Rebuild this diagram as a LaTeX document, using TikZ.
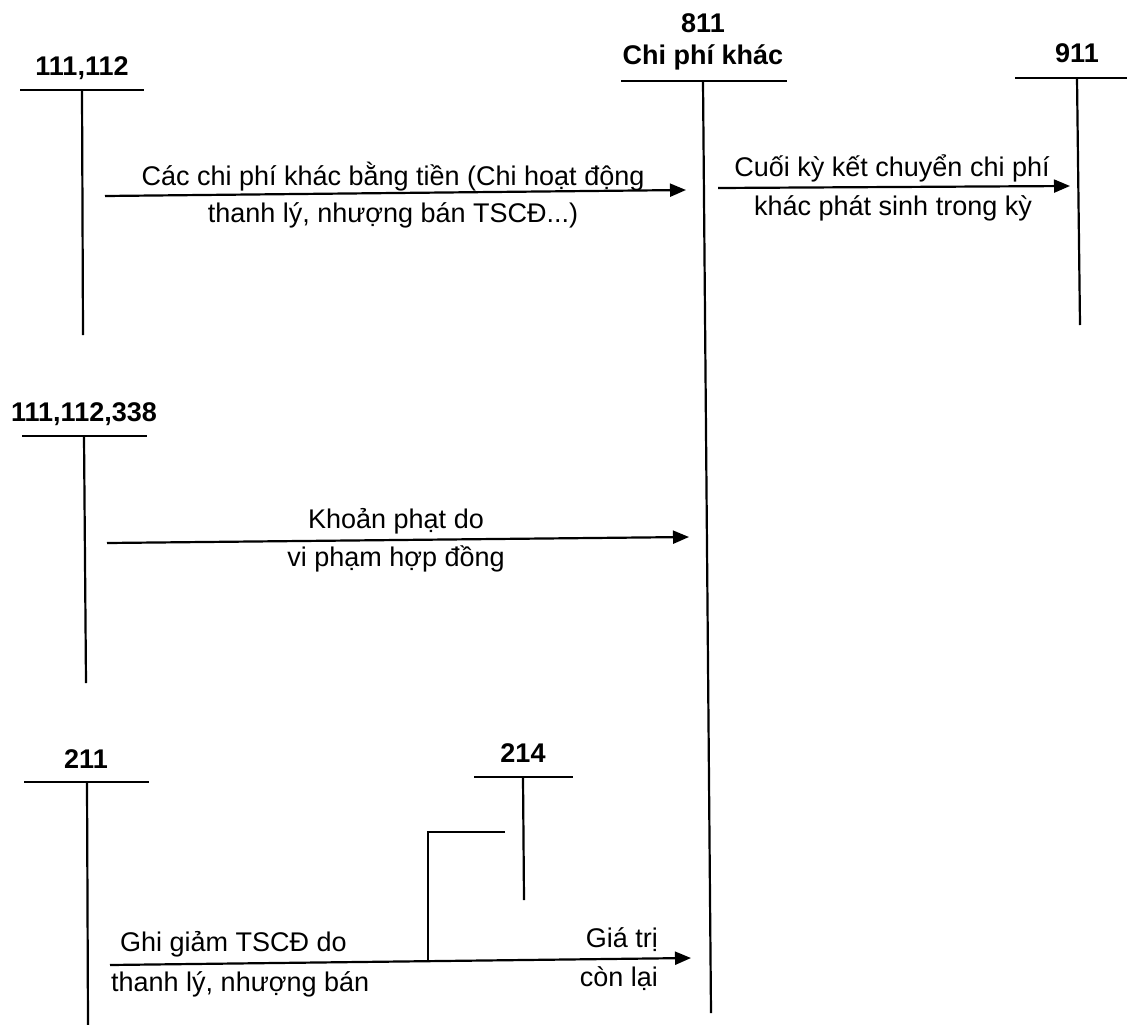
\documentclass[tikz,border=0pt]{standalone}
\usepackage{fontspec}
\setmainfont{Liberation Sans}
\usetikzlibrary{arrows.meta}
\begin{document}
\begin{tikzpicture}[x=1pt,y=-1pt,
  acc/.style={line width=2.2pt},
  flow/.style={line width=2.2pt,-{Triangle[length=16pt,width=13pt]}},
  lbl/.style={inner sep=0pt,anchor=base,font=\fontsize{27}{32}\selectfont},
  head/.style={inner sep=0pt,anchor=base,font=\fontsize{27}{32}\selectfont\bfseries}]
\useasboundingbox (0,0) rectangle (1127,1025);
% T-account 111,112
\coordinate (aL) at (20,90); \coordinate (aR) at (144,90);
\coordinate (aT) at (82,90); \coordinate (aB) at (83,335);
\draw[acc] (aL) -- (aR); \draw[acc] (aT) -- (aB);
\node[head] (aN) at (82,75) {111,112};
% T-account 811
\coordinate (mL) at (621,81); \coordinate (mR) at (787,81);
\coordinate (mT) at (703,81); \coordinate (mB) at (711,1013);
\draw[acc] (mL) -- (mR); \draw[acc] (mT) -- (mB);
\node[head] (mN1) at (703,33) {811};
\node[head] (mN2) at (703,65) {Chi phí khác};
% T-account 911
\coordinate (zL) at (1015,78); \coordinate (zR) at (1127,78);
\coordinate (zT) at (1077,78); \coordinate (zB) at (1080,325);
\draw[acc] (zL) -- (zR); \draw[acc] (zT) -- (zB);
\node[head] (zN) at (1077,63) {911};
% T-account 111,112,338
\coordinate (bL) at (22,436); \coordinate (bR) at (147,436);
\coordinate (bT) at (84,436); \coordinate (bB) at (86,683);
\draw[acc] (bL) -- (bR); \draw[acc] (bT) -- (bB);
\node[head] (bN) at (84,421) {111,112,338};
% T-account 211
\coordinate (cL) at (24,782); \coordinate (cR) at (149,782);
\coordinate (cT) at (87,782); \coordinate (cB) at (88,1025);
\draw[acc] (cL) -- (cR); \draw[acc] (cT) -- (cB);
\node[head] (cN) at (86,768) {211};
% T-account 214
\coordinate (dL) at (474,777); \coordinate (dR) at (573,777);
\coordinate (dT) at (523,777); \coordinate (dB) at (524,900);
\draw[acc] (dL) -- (dR); \draw[acc] (dT) -- (dB);
\node[head] (dN) at (523,762) {214};
% flow 1
\coordinate (f1s) at (105,196); \coordinate (f1e) at (686,190);
\draw[flow] (f1s) -- (f1e);
\node[lbl] (t1a) at (393,185) {Các chi phí khác bằng tiền (Chi hoạt động};
\node[lbl] (t1b) at (393,222) {thanh lý, nhượng bán TSCĐ...)};
% flow 2
\coordinate (f2s) at (718,188); \coordinate (f2e) at (1070,186);
\draw[flow] (f2s) -- (f2e);
\node[lbl] (t2a) at (892,176) {Cuối kỳ kết chuyển chi phí};
\node[lbl] (t2b) at (893,215) {khác phát sinh trong kỳ};
% flow 3
\coordinate (f3s) at (107,543); \coordinate (f3e) at (689,537);
\draw[flow] (f3s) -- (f3e);
\node[lbl] (t3a) at (396,528) {Khoản phạt do};
\node[lbl] (t3b) at (396,566) {vi phạm hợp đồng};
% flow 4
\coordinate (f4s) at (110,965); \coordinate (f4e) at (691,958);
\draw[flow] (f4s) -- (f4e);
\coordinate (g1) at (505,832); \coordinate (g2) at (428,832); \coordinate (g3) at (428,961);
\draw[acc] (g1) -- (g2) -- (g3);
\node[lbl,anchor=base west] (t4a) at (120,951) {Ghi giảm TSCĐ do};
\node[lbl,anchor=base west] (t4b) at (111,991) {thanh lý, nhượng bán};
\node[lbl,anchor=base east] (t4c) at (658,947) {Giá trị};
\node[lbl,anchor=base east] (t4d) at (658,986) {còn lại};
\end{tikzpicture}
\end{document}
